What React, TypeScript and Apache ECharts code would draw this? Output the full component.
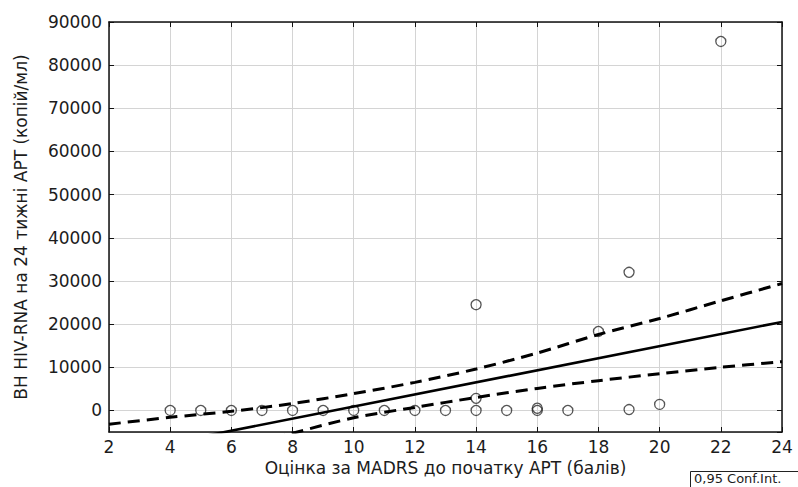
import React, { useEffect, useRef } from "react";
import * as echarts from "echarts";

const xTicks = [2, 24, 2]; // min, max, step
const yRange = [-5000, 90000];

const pointsX = [4, 5, 6, 7, 8, 9, 10, 11, 12, 13, 14, 14, 14, 15, 16, 16, 17, 18, 19, 19, 20, 22];
const pointsY = [0, 0, 0, 0, 0, 0, 0, 0, 0, 0, 0, 2800, 24500, 0, 0, 500, 0, 18300, 200, 32000, 1400, 85500];

const fitX = [2, 24];
const fitY = [-10300, 20500];

const bandX = [2, 4, 6, 8, 10, 12, 14, 16, 18, 20, 22, 24];
const upperY = [-3200, -1600, -200, 1600, 3900, 6500, 9600, 13300, 17600, 21300, 25400, 29400];
const lowerY = [-17400, -13300, -9200, -5300, -1700, 700, 3000, 5100, 6900, 8500, 10000, 11300];

const xTitle = "Оцінка за MADRS до початку АРТ (балів)";
const yTitle = "ВН HIV-RNA на 24 тижні АРТ (копій/мл)";
const legendText = "0,95 Conf.Int.";

const FONT = "DejaVu Sans";
const TXT = "#1c1c1c";

export default function App() {
  const ref = useRef<HTMLDivElement>(null);
  useEffect(() => {
    if (!ref.current) return;
    const chart = echarts.init(ref.current, null, { renderer: "svg" });
    const axisLine = { show: true, onZero: false, lineStyle: { color: "#111", width: 1.5 } };
    const tick = { show: true, inside: true, length: 5, lineStyle: { color: "#111", width: 1 } };
    const split = { show: true, lineStyle: { color: "#d4d4d4", width: 1 } };
    chart.setOption({
      animation: false,
      backgroundColor: "#fff",
      textStyle: { fontFamily: FONT },
      grid: { left: 109, right: 16, top: 22, bottom: 55, containLabel: false },
      xAxis: [
        {
          type: "value",
          min: xTicks[0],
          max: xTicks[1],
          interval: xTicks[2],
          position: "bottom",
          axisLine,
          axisTick: tick,
          splitLine: split,
          axisLabel: { fontFamily: FONT, fontSize: 17, color: TXT, margin: 6 },
          name: xTitle,
          nameLocation: "middle",
          nameGap: 25,
          nameTextStyle: { fontFamily: FONT, fontSize: 17, color: TXT, verticalAlign: "top" },
        },
        {
          type: "value",
          min: xTicks[0],
          max: xTicks[1],
          interval: xTicks[2],
          position: "top",
          axisLine,
          axisTick: tick,
          splitLine: { show: false },
          axisLabel: { show: false },
        },
      ],
      yAxis: [
        {
          type: "value",
          min: yRange[0],
          max: yRange[1],
          splitNumber: 9,
          position: "left",
          axisLine,
          axisTick: tick,
          splitLine: split,
          axisLabel: {
            fontFamily: FONT,
            fontSize: 17,
            color: TXT,
            margin: 7,
            showMinLabel: false,
            formatter: (v: number) => (v % 10000 === 0 ? String(v) : ""),
          },
          name: yTitle,
          nameLocation: "middle",
          nameGap: 80,
          nameRotate: 90,
          nameTextStyle: { fontFamily: FONT, fontSize: 17, color: TXT },
        },
        {
          type: "value",
          min: yRange[0],
          max: yRange[1],
          splitNumber: 9,
          position: "right",
          axisLine,
          axisTick: tick,
          splitLine: { show: false },
          axisLabel: { show: false },
        },
      ],
      series: [
        {
          type: "scatter",
          data: pointsX.map((x, i) => [x, pointsY[i]]),
          symbol: "circle",
          symbolSize: 10,
          itemStyle: { color: "rgba(255,255,255,0)", borderColor: "#2a2a2a", borderWidth: 1.3 },
          z: 3,
        },
        {
          type: "line",
          data: fitX.map((x, i) => [x, fitY[i]]),
          showSymbol: false,
          symbol: "none",
          clip: true,
          lineStyle: { color: "#000", width: 2.6 },
          z: 4,
        },
        {
          type: "line",
          data: bandX.map((x, i) => [x, upperY[i]]),
          showSymbol: false,
          symbol: "none",
          smooth: 0.3,
          clip: true,
          lineStyle: { color: "#000", width: 3, type: [12, 7] },
          z: 4,
        },
        {
          type: "line",
          data: bandX.map((x, i) => [x, lowerY[i]]),
          showSymbol: false,
          symbol: "none",
          smooth: 0.3,
          clip: true,
          lineStyle: { color: "#000", width: 3, type: [12, 7] },
          z: 4,
        },
      ],
      graphic: [
        {
          type: "rect",
          left: 690,
          top: 471,
          shape: { width: 112, height: 22 },
          style: { fill: "#fff", stroke: "#222", lineWidth: 1 },
          z: 10,
        },
        {
          type: "text",
          left: 694,
          top: 472,
          style: { text: legendText, fontFamily: FONT, fontSize: 13, fill: TXT },
          z: 11,
        },
      ],
    });
    return () => chart.dispose();
  }, []);
  return (
    <div
      ref={ref}
      style={{ position: "fixed", left: 0, top: 0, width: 798, height: 487, background: "#fff" }}
    />
  );
}
